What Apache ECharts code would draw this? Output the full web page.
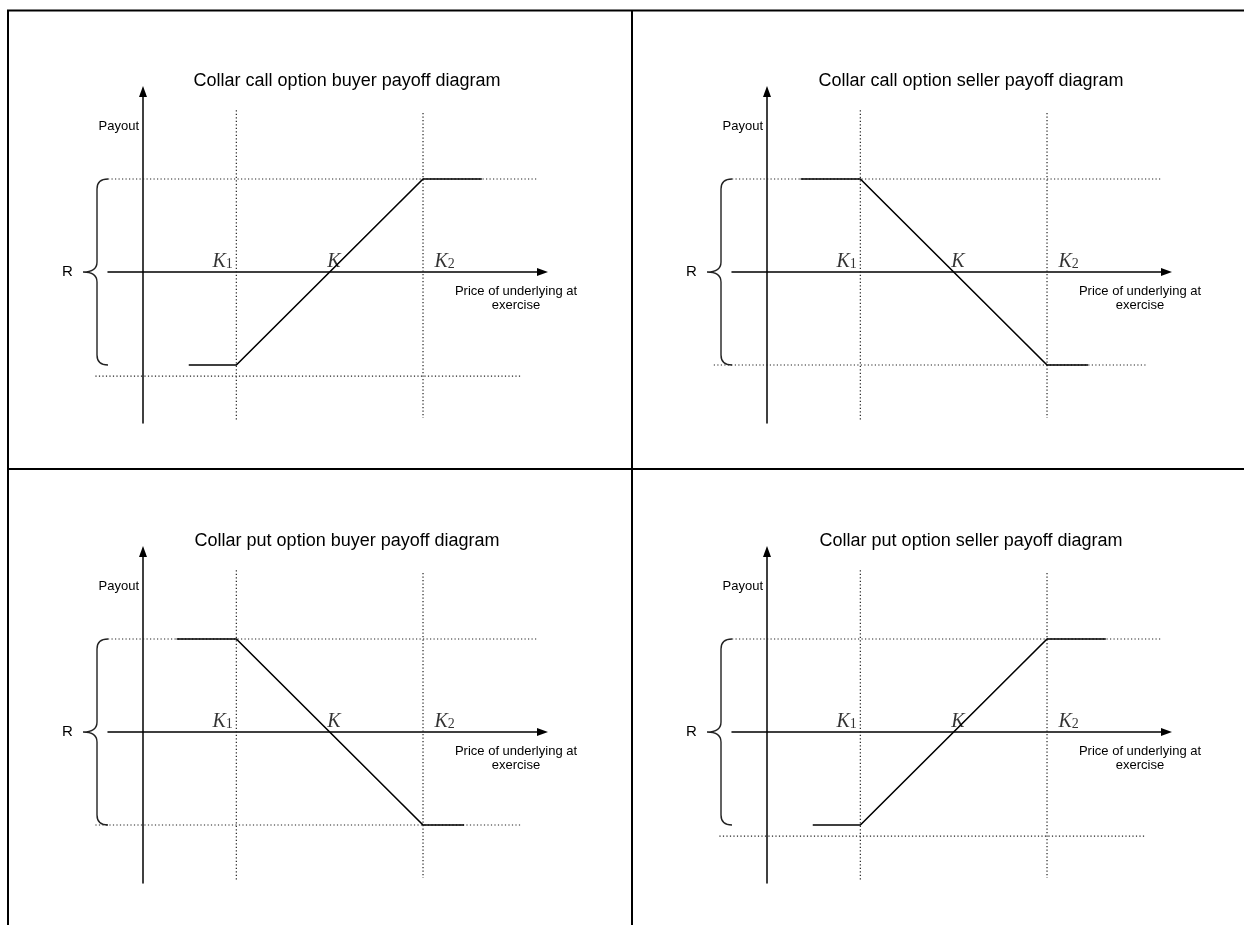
<!DOCTYPE html>
<html>
<head>
<meta charset="utf-8">
<title>Collar option payoff diagrams</title>
<script src="https://cdn.jsdelivr.net/npm/echarts@6/dist/echarts.min.js"></script>
<style>
  html, body { margin: 0; padding: 0; background: #fff; }
  #main { width: 1244px; height: 925px; }
</style>
</head>
<body>
<div id="main"></div>
<script>
// one title per panel: top-left, top-right, bottom-left, bottom-right
var titles = [
    'Collar call option buyer payoff diagram',
    'Collar call option seller payoff diagram',
    'Collar put option buyer payoff diagram',
    'Collar put option seller payoff diagram'
];
// strikes on the price axis: K1, K, K2
var strikes = [1, 2, 3];
var strikeSubs = ['1', '', '2'];
// payoff paths [price, payout]
var callBuyer = [[0.49, -1], [1, -1], [3, 1], [3.63, 1]];
var callSeller = [[0.36, 1], [1, 1], [3, -1], [3.44, -1]];
var putBuyer = [[0.36, 1], [1, 1], [3, -1], [3.44, -1]];
var putSeller = [[0.49, -1], [1, -1], [3, 1], [3.63, 1]];
var payoffs = [callBuyer, callSeller, putBuyer, putSeller];
// range R between cap and floor
var cap = 1;
var floor = -1;
// dotted guides [x1, y1, x2, y2]
var topGuide = [-0.375, 1, 4.22, 1];
var bottomGuides = [
    [-0.51, -1.12, 4.06, -1.12],
    [-0.57, -1, 4.06, -1],
    [-0.51, -1, 4.05, -1],
    [-0.51, -1.12, 4.06, -1.12]
];
var k1Guide = [1, 1.74, 1, -1.61];
var k2Guide = [3, 1.71, 3, -1.57];

var xName = 'Price of underlying at\nexercise';
var yName = 'Payout';

var chart = echarts.init(document.getElementById('main'), null, { renderer: 'canvas' });

var offX = [0, 624, 0, 624];
var offY = [0, 0, 460, 460];
var sans = 'Liberation Sans, Arial, sans-serif';
var serif = 'Liberation Serif, Times New Roman, serif';

// label placement for K1, K, K2
var strikeLabelPos = [
    { position: [-3, 0], align: 'right' },
    { position: [-2, 0], align: 'left' },
    { position: [12, 0], align: 'left' }
];

// data -> pixel without clamping to the axis range
function toPx(api, x, y) {
    var o = api.coord([0, 0]);
    var u = api.size([1, 1]);
    return [o[0] + x * u[0], o[1] - y * u[1]];
}

var grids = [], xAxes = [], yAxes = [], series = [], titleOpts = [];

for (var i = 0; i < 4; i++) {
    grids.push({ left: 108 + offX[i], top: 91.5 + offY[i], width: 434.5, height: 331.5 });
    titleOpts.push({
        text: titles[i],
        left: 347 + offX[i],
        top: 81 + offY[i],
        textAlign: 'center',
        textVerticalAlign: 'middle',
        padding: 0,
        textStyle: { fontSize: 18, fontWeight: 'normal', color: '#000', fontFamily: sans }
    });
    xAxes.push({
        type: 'value', gridIndex: i, min: -0.375, max: 4.28,
        axisLine: { onZero: true, symbol: ['none', 'triangle'], symbolSize: [8, 11], lineStyle: { color: '#000', width: 1.5 } },
        axisTick: { show: false }, axisLabel: { show: false }, splitLine: { show: false },
        name: xName, nameLocation: 'end', nameGap: -26.5,
        nameTextStyle: { fontSize: 13, fontFamily: sans, color: '#000', align: 'center', verticalAlign: 'top', lineHeight: 14, padding: [12, 0, 0, 0] }
    });
    yAxes.push({
        type: 'value', gridIndex: i, min: -1.624, max: 1.941,
        axisLine: { onZero: true, symbol: ['none', 'triangle'], symbolSize: [8, 11], lineStyle: { color: '#000', width: 1.5 } },
        axisTick: { show: false }, axisLabel: { show: false }, splitLine: { show: false },
        name: yName, nameLocation: 'end', nameGap: -35,
        nameTextStyle: { fontSize: 13, fontFamily: sans, color: '#000', align: 'right', verticalAlign: 'middle', padding: [0, 4, 0, 0] }
    });

    // dotted guides
    series.push({
        type: 'custom', xAxisIndex: i, yAxisIndex: i, silent: true,
        data: [topGuide, bottomGuides[i], k1Guide, k2Guide],
        renderItem: function (params, api) {
            var p1 = toPx(api, api.value(0), api.value(1));
            var p2 = toPx(api, api.value(2), api.value(3));
            return {
                type: 'line',
                shape: { x1: p1[0], y1: p1[1], x2: p2[0], y2: p2[1] },
                style: { stroke: '#222', lineWidth: 1.2, lineDash: [1.2, 2.3] }
            };
        }
    });

    series.push({
        type: 'line', xAxisIndex: i, yAxisIndex: i, data: payoffs[i], symbol: 'none',
        clip: false, silent: true, lineStyle: { color: '#000', width: 1.6 }
    });

    series.push({
        type: 'scatter', xAxisIndex: i, yAxisIndex: i, symbolSize: 1, silent: true,
        itemStyle: { color: 'rgba(0,0,0,0)' },
        data: strikes.map(function (k, j) {
            return {
                value: [k, 0],
                label: {
                    position: strikeLabelPos[j].position,
                    align: strikeLabelPos[j].align,
                    verticalAlign: 'bottom'
                }
            };
        }),
        label: {
            show: true,
            formatter: function (p) {
                var s = strikeSubs[p.dataIndex];
                return '{k|K}' + (s ? '{s|' + s + '}' : '');
            },
            rich: {
                k: { fontFamily: serif, fontStyle: 'italic', fontSize: 20, lineHeight: 20, color: '#000', verticalAlign: 'bottom' },
                s: { fontFamily: serif, fontSize: 14, lineHeight: 8, color: '#000', verticalAlign: 'bottom' }
            }
        }
    });

    // curly brace marking the range R
    series.push({
        type: 'custom', xAxisIndex: i, yAxisIndex: i, silent: true,
        data: [[0, cap, floor]],
        renderItem: function (params, api) {
            var a = api.coord([api.value(0), api.value(1)]);
            var b = api.coord([api.value(0), api.value(2)]);
            var xe = a[0] - 35, xs = a[0] - 46, xt = a[0] - 60;
            var yt = a[1], yb = b[1], ym = (yt + yb) / 2, r = 10;
            var d = 'M' + xe + ' ' + yt +
                ' Q' + xs + ' ' + yt + ' ' + xs + ' ' + (yt + r) +
                ' L' + xs + ' ' + (ym - r) +
                ' Q' + xs + ' ' + ym + ' ' + xt + ' ' + ym +
                ' Q' + xs + ' ' + ym + ' ' + xs + ' ' + (ym + r) +
                ' L' + xs + ' ' + (yb - r) +
                ' Q' + xs + ' ' + yb + ' ' + xe + ' ' + yb;
            return {
                type: 'group',
                children: [
                    { type: 'path', shape: { pathData: d }, style: { stroke: '#222', fill: 'none', lineWidth: 1.4 } },
                    { type: 'text', x: a[0] - 75.5, y: ym, style: { text: 'R', fontSize: 15, fontFamily: sans, fill: '#000', align: 'center', verticalAlign: 'middle' } }
                ]
            };
        }
    });
}

var option = {
    animation: false,
    backgroundColor: '#fff',
    title: titleOpts,
    grid: grids,
    xAxis: xAxes,
    yAxis: yAxes,
    series: series,
    graphic: [
        { type: 'line', shape: { x1: 7, y1: 10.5, x2: 1244, y2: 10.5 }, style: { stroke: '#000', lineWidth: 2 } },
        { type: 'line', shape: { x1: 8, y1: 10, x2: 8, y2: 925 }, style: { stroke: '#000', lineWidth: 2 } },
        { type: 'line', shape: { x1: 632, y1: 10, x2: 632, y2: 925 }, style: { stroke: '#000', lineWidth: 2 } },
        { type: 'line', shape: { x1: 8, y1: 469, x2: 1244, y2: 469 }, style: { stroke: '#000', lineWidth: 2 } }
    ]
};
chart.setOption(option);
</script>
</body>
</html>
